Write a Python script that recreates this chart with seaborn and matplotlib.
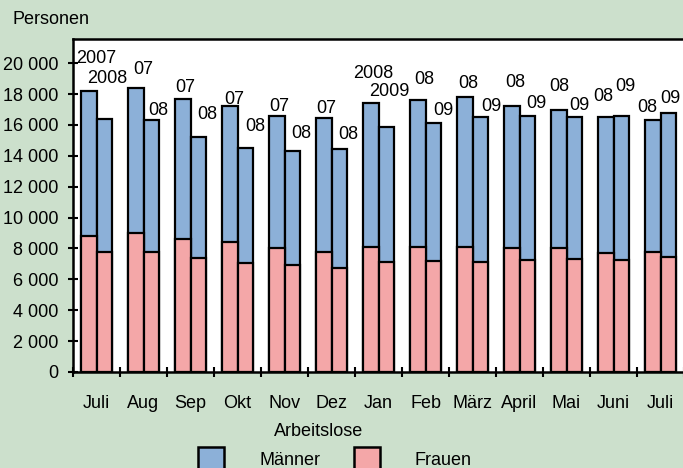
import numpy as np
import pandas as pd
import matplotlib
matplotlib.use("Agg")
import matplotlib.pyplot as plt
import seaborn as sns
from matplotlib.patches import Patch

# ---- data ----
months = ["Juli", "Aug", "Sep", "Okt", "Nov", "Dez", "Jan", "Feb", "März",
          "April", "Mai", "Juni", "Juli"]
labels_prev = ["2007", "07", "07", "07", "07", "07", "2008", "08", "08", "08", "08", "08", "08"]
labels_curr = ["2008", "08", "08", "08", "08", "08", "2009", "09", "09", "09", "09", "09", "09"]
frauen_prev = [8800, 9000, 8600, 8400, 8000, 7800, 8100, 8100, 8100, 8000, 8000, 7700, 7800]
maenner_prev = [9400, 9400, 9100, 8800, 8550, 8650, 9300, 9550, 9700, 9250, 9000, 8800, 8550]
frauen_curr = [7800, 7800, 7400, 7050, 6900, 6750, 7150, 7200, 7150, 7250, 7300, 7250, 7450]
maenner_curr = [8600, 8500, 7850, 7450, 7400, 7700, 8750, 8950, 9350, 9300, 9200, 9350, 9300]
yticks = list(range(0, 20001, 2000))

# label offsets (pixels) for the year labels, as placed in the original
off_prev = [(7, 33), (7, 18), (2, 11), (4, 7), (2, 10), (2, 10), (2, 30),
            (6, 20), (3, 14), (3, 23), (0, 23), (-3, 21), (-6, 12)]
off_curr = [(3, 40), (7, 10), (9, 22), (10, 22), (9, 18), (9, 14), (3, 35),
            (10, 12), (11, 11), (9, 13), (5, 12), (4, 29), (2, 15)]

BG = "#CCE0CC"
BLUE = "#8CB0D8"
PINK = "#F4A7A8"
FS = 13

plt.rcParams['font.family'] = ['Liberation Sans', 'DejaVu Sans']

rows = []
for i in range(len(months)):
    rows.append(dict(pos=i, slot="prev", frauen=frauen_prev[i],
                     total=frauen_prev[i] + maenner_prev[i]))
    rows.append(dict(pos=i, slot="curr", frauen=frauen_curr[i],
                     total=frauen_curr[i] + maenner_curr[i]))
df = pd.DataFrame(rows)

fig = plt.figure(figsize=(6.83, 4.68), dpi=100, facecolor=BG)
ax = fig.add_axes([73 / 683, 1 - 372 / 468, 611 / 683, 333 / 468])
ax.set_facecolor("white")

common = dict(data=df, x="pos", hue="slot", hue_order=["prev", "curr"], width=0.64,
              dodge=True, gap=0, edgecolor="black", linewidth=1.6, errorbar=None,
              saturation=1, legend=False, ax=ax)
sns.barplot(y="total", palette=[BLUE, BLUE], **common)
sns.barplot(y="frauen", palette=[PINK, PINK], **common)

# year labels above the total bars
for cont, labs, offs in [(ax.containers[0], labels_prev, off_prev),
                         (ax.containers[1], labels_curr, off_curr)]:
    for bar, lab, (dx, dy) in zip(cont, labs, offs):
        ax.annotate(lab, (bar.get_x() + bar.get_width() / 2, bar.get_height()),
                    xytext=(dx, dy), textcoords="offset pixels",
                    ha="center", va="center", fontsize=FS, annotation_clip=False)

ax.set_xlim(-0.5, len(months) - 0.5)
ax.set_ylim(0, 21570)
ax.set_xticks(range(len(months)))
ax.set_xticklabels(months, fontsize=FS)
ax.set_xticks(np.arange(-0.5, len(months), 1), minor=True)
ax.tick_params(axis="x", which="major", length=0, pad=16.5)
ax.tick_params(axis="x", which="minor", direction="inout", length=7, width=1.5)
ax.set_yticks(yticks)
ax.set_yticklabels([f"{v:,}".replace(",", " ") for v in yticks], fontsize=FS)
ax.tick_params(axis="y", direction="inout", length=7, width=1.5, pad=7)
ax.set_xlabel("")
ax.set_ylabel("")
for s in ax.spines.values():
    s.set_linewidth(1.8)
    s.set_color("black")

fig.text(12 / 683, 1 - 20 / 468, "Personen", fontsize=FS, va="center", ha="left")
fig.text(318.5 / 683, 1 - 431 / 468, "Arbeitslose", fontsize=FS, va="center", ha="center")

handles = [Patch(facecolor=BLUE, edgecolor="black", linewidth=1.8, label="Männer"),
           Patch(facecolor=PINK, edgecolor="black", linewidth=1.8, label="Frauen")]
leg = fig.legend(handles=handles, ncol=2, loc="center",
                 bbox_to_anchor=(335 / 683, 1 - 459 / 468), frameon=False,
                 fontsize=FS, handlelength=1.44, handleheight=1.66,
                 handletextpad=1.94, columnspacing=1.84, borderpad=0, borderaxespad=0)

fig.savefig("out.png", dpi=100, facecolor=BG)
